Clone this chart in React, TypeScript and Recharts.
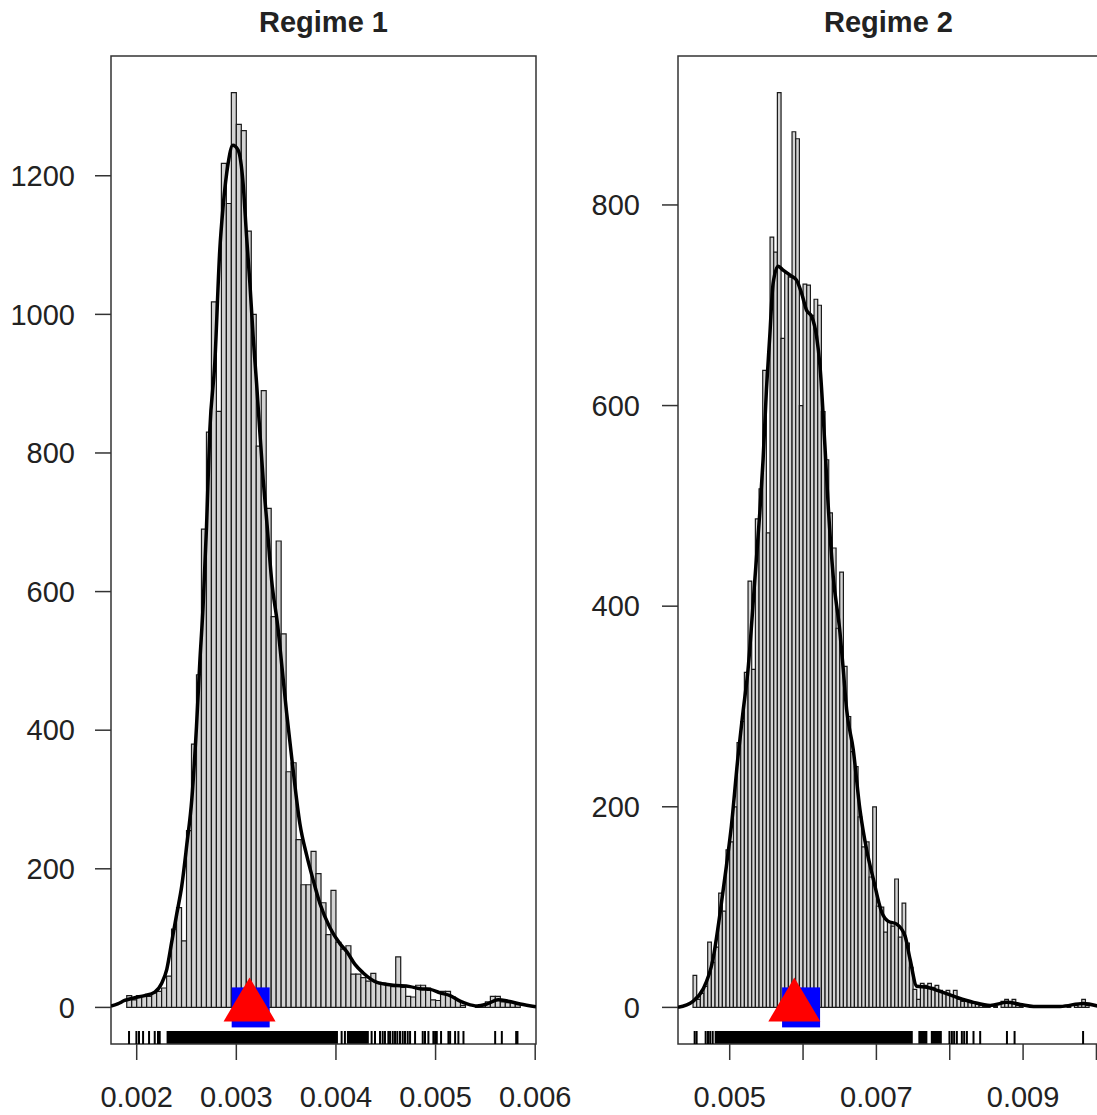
import React from 'react'
import { ComposedChart, XAxis, YAxis, Line, Scatter, ReferenceArea } from 'recharts'

// both regimes use histogram bins 0.00005 wide
const BIN_WIDTH = 0.00005

// ---- Regime 1 ----
const R1_BIN_START = 0.0019
const R1_COUNTS = [
  17, 11, 17, 16, 16, 21, 23, 28, 45, 113,
  144, 96, 255, 380, 480, 690, 830, 1018, 860, 1218,
  1160, 1320, 1274, 1265, 1120, 1000, 810, 890, 720, 564,
  673, 539, 340, 353, 242, 177, 177, 225, 193, 151,
  105, 169, 94, 84, 89, 48, 48, 43, 38, 49,
  36, 35, 33, 30, 73, 29, 16, 15, 32, 32,
  28, 11, 10, 23, 23, 15, 10, 3, 0, 0,
  2, 3, 8, 16, 16, 8, 7, 7, 4,
]
const R1_DENS_X = [
  0.001742, 0.001809, 0.001879, 0.00198, 0.00208, 0.002181, 0.002251, 0.002302, 0.002352, 0.002402,
  0.002452, 0.002503, 0.002553, 0.0026, 0.002633, 0.002666, 0.002701, 0.002734, 0.002784, 0.002834,
  0.002867, 0.002918, 0.002965, 0.003018, 0.003068, 0.003103, 0.003136, 0.003169, 0.003203, 0.003236,
  0.00327, 0.003304, 0.003354, 0.00342, 0.003454, 0.003505, 0.003568, 0.003638, 0.003709, 0.003769,
  0.003839, 0.00394, 0.00404, 0.004111, 0.004191, 0.004271, 0.004412, 0.004573, 0.004744, 0.004844,
  0.004945, 0.005045, 0.005146, 0.005246, 0.005317, 0.005417, 0.005518, 0.005628, 0.005729, 0.005849,
  0.006008,
]
const R1_DENS_Y = [
  2, 5, 10, 14, 17, 22, 35, 55, 95, 135,
  175, 235, 300, 405, 497, 578, 694, 833, 930, 1093,
  1155, 1218, 1244, 1237, 1189, 1112, 1045, 968, 901, 830,
  761, 704, 617, 545, 497, 425, 345, 265, 218, 185,
  150, 115, 92, 80, 62, 50, 36, 32, 30, 27,
  26, 21, 17, 9, 5, 2, 5, 11, 9, 5,
  1,
]
const R1_RUG = [
  0.001923, 0.001997, 0.002023, 0.002064, 0.002124, 0.002181, 0.002214, 0.002231, 0.004057, 0.00409,
  0.004358, 0.004392, 0.004442, 0.004469, 0.004492, 0.004526, 0.004543, 0.00457, 0.004593, 0.004616,
  0.004643, 0.00467, 0.004693, 0.00472, 0.004744, 0.004794, 0.004871, 0.004894, 0.004928, 0.004978,
  0.004995, 0.005012, 0.005055, 0.005129, 0.005146, 0.005196, 0.005229, 0.00528, 0.005598, 0.005665,
  0.005809, 0.005822,
]
const R1_RUG_BANDS = [
  [0.0023, 0.00402],
  [0.00411, 0.00433],
]
const R1_SQUARE = 0.003144
const R1_TRIANGLE = 0.003133
const R1_X_TICKS = [0.002, 0.003, 0.004, 0.005, 0.006]
const R1_Y_TICKS = [0, 200, 400, 600, 800, 1000, 1200]

// ---- Regime 2 ----
const R2_BIN_START = 0.0045
const R2_COUNTS = [
  32, 8, 14, 21, 65, 45, 60, 114, 96, 157,
  165, 200, 264, 285, 334, 425, 337, 487, 517, 635,
  473, 768, 753, 912, 667, 732, 728, 873, 866, 600,
  721, 720, 690, 706, 700, 594, 546, 493, 458, 378,
  434, 340, 290, 255, 240, 190, 160, 165, 130, 200,
  101, 100, 75, 85, 81, 128, 70, 104, 64, 40,
  18, 8, 24, 22, 24, 20, 22, 17, 15, 17,
  12, 17, 8, 6, 6, 5, 4, 3, 2, 1,
  2, 0, 1, 0, 6, 8, 4, 8, 2, 1,
  0, 0, 1, 0, 0, 0, 1, 0, 0, 0,
  0, 0, 1, 0, 2, 3, 8, 2,
]
const R2_DENS_X = [
  0.004295, 0.004499, 0.004635, 0.004772, 0.004863, 0.004955, 0.005023, 0.005113, 0.005182, 0.00525,
  0.005342, 0.00541, 0.005455, 0.005501, 0.005546, 0.005592, 0.00566, 0.005728, 0.005843, 0.005911,
  0.00598, 0.006048, 0.006116, 0.006184, 0.00623, 0.006298, 0.006343, 0.006411, 0.006503, 0.006548,
  0.006594, 0.006684, 0.006776, 0.006867, 0.006958, 0.007072, 0.007158, 0.007277, 0.007391, 0.007459,
  0.007551, 0.007687, 0.007869, 0.008097, 0.008324, 0.008552, 0.00878, 0.008962, 0.009143, 0.009508,
  0.009822, 0.010035,
]
const R2_DENS_Y = [
  0, 6, 18, 48, 91, 141, 181, 250, 295, 337,
  426, 493, 546, 616, 669, 722, 739, 735, 729, 725,
  712, 695, 689, 669, 640, 560, 500, 430, 374, 337,
  297, 257, 197, 157, 128, 95, 86, 83, 71, 48,
  21, 20, 16, 10, 5, 2, 5, 3, 1, 1,
  4, 1,
]
const R2_RUG = [
  0.004522, 0.004549, 0.004672, 0.004704, 0.004734, 0.004768, 0.007996, 0.008029, 0.00806, 0.008097,
  0.008165, 0.008197, 0.008234, 0.008324, 0.008415, 0.00878, 0.008884, 0.009818,
]
const R2_RUG_BANDS = [
  [0.004795, 0.007496],
  [0.007572, 0.007695],
  [0.007742, 0.007892],
]
const R2_SQUARE = 0.005973
const R2_TRIANGLE = 0.005881
const R2_X_TICKS = [0.005, 0.006, 0.007, 0.008, 0.009, 0.01]
const R2_X_LABELS = [0.005, 0.007, 0.009]
const R2_Y_TICKS = [0, 200, 400, 600, 800]

const FONT = '"Liberation Sans", Arial, sans-serif'
const TEXT = '#222'
const PLOT_H = 988
const RUG_PX = 13

const RugTick = (p: any) => (
  <line x1={p.cx} x2={p.cx} y1={p.cy - RUG_PX} y2={p.cy} stroke="#000" strokeWidth={2} />
)
const BlueSquare = (p: any) => (
  <rect x={p.cx - 19} y={p.cy - 20} width={38} height={40} fill="#0000ff" />
)
const RedTriangle = (p: any) => (
  <polygon
    points={`${p.cx},${p.cy - 30} ${p.cx - 26},${p.cy + 14} ${p.cx + 26},${p.cy + 14}`}
    fill="#ff0000"
  />
)

type PanelProps = {
  left: number
  width: number
  yAxisWidth: number
  marginRight: number
  binStart: number
  counts: number[]
  densX: number[]
  densY: number[]
  rug: number[]
  rugBands: number[][]
  square: number
  triangle: number
  xDomain: [number, number]
  yDomain: [number, number]
  xTicks: number[]
  xLabels: number[]
  yTicks: number[]
  yLabelGap: number
}

function Panel(props: PanelProps) {
  const { xDomain, yDomain } = props
  const dens = props.densX.map((x, i) => ({ x, y: props.densY[i] }))
  const rugTop = yDomain[0] + ((yDomain[1] - yDomain[0]) * RUG_PX) / PLOT_H
  const tickStyle = { fill: TEXT, fontSize: 29, fontFamily: FONT }
  const showLabel = (v: number) => props.xLabels.some((l) => Math.abs(l - v) < 1e-9)

  return (
    <div style={{ position: 'absolute', left: props.left, top: 0 }}>
      <ComposedChart
        width={props.width}
        height={1115}
        margin={{ top: 56, right: props.marginRight, bottom: 0, left: 0 }}
      >
        <XAxis
          type="number"
          dataKey="x"
          domain={xDomain}
          allowDataOverflow
          ticks={props.xTicks}
          interval={0}
          height={71}
          axisLine={false}
          tickLine={{ stroke: '#333', strokeWidth: 1.5 }}
          tickSize={16}
          tickMargin={26}
          tick={tickStyle}
          tickFormatter={(v: number) => (showLabel(v) ? v.toFixed(3) : '')}
        />
        <YAxis
          type="number"
          dataKey="y"
          domain={yDomain}
          allowDataOverflow
          ticks={props.yTicks}
          interval={0}
          width={props.yAxisWidth}
          axisLine={false}
          tickLine={{ stroke: '#333', strokeWidth: 1.5 }}
          tickSize={16}
          tickMargin={props.yLabelGap}
          tick={tickStyle}
        />
        {props.counts.map((c, i) => (
          <ReferenceArea
            key={'b' + i}
            x1={props.binStart + i * BIN_WIDTH}
            x2={props.binStart + (i + 1) * BIN_WIDTH}
            y1={0}
            y2={c}
            fill="#d3d3d3"
            fillOpacity={1}
            stroke="#1a1a1a"
            strokeWidth={1.2}
          />
        ))}
        <Line
          data={dens}
          dataKey="y"
          type="monotone"
          stroke="#000"
          strokeWidth={3.5}
          dot={false}
          activeDot={false}
          isAnimationActive={false}
        />
        {props.rugBands.map((b, i) => (
          <ReferenceArea
            key={'r' + i}
            x1={b[0]}
            x2={b[1]}
            y1={yDomain[0]}
            y2={rugTop}
            fill="#000"
            fillOpacity={1}
            stroke="none"
          />
        ))}
        <Scatter
          data={props.rug.map((x) => ({ x, y: yDomain[0] }))}
          dataKey="y"
          shape={RugTick}
          isAnimationActive={false}
        />
        <Scatter
          data={[{ x: props.square, y: 0 }]}
          dataKey="y"
          shape={BlueSquare}
          isAnimationActive={false}
        />
        <Scatter
          data={[{ x: props.triangle, y: 0 }]}
          dataKey="y"
          shape={RedTriangle}
          isAnimationActive={false}
        />
        <ReferenceArea
          x1={xDomain[0]}
          x2={xDomain[1]}
          y1={yDomain[0]}
          y2={yDomain[1]}
          fill="none"
          stroke="#333"
          strokeWidth={1.5}
        />
      </ComposedChart>
    </div>
  )
}

export default function App() {
  return (
    <div
      style={{
        position: 'absolute',
        left: 0,
        top: 0,
        width: 1097,
        height: 1115,
        overflow: 'hidden',
        background: '#fff',
        fontFamily: FONT,
      }}
    >
      <Panel
        left={548}
        width={560}
        yAxisWidth={130}
        marginRight={9}
        binStart={R2_BIN_START}
        counts={R2_COUNTS}
        densX={R2_DENS_X}
        densY={R2_DENS_Y}
        rug={R2_RUG}
        rugBands={R2_RUG_BANDS}
        square={R2_SQUARE}
        triangle={R2_TRIANGLE}
        xDomain={[0.004295, 0.010035]}
        yDomain={[-36.5, 948.5]}
        xTicks={R2_X_TICKS}
        xLabels={R2_X_LABELS}
        yTicks={R2_Y_TICKS}
        yLabelGap={22}
      />
      <Panel
        left={0}
        width={600}
        yAxisWidth={111}
        marginRight={64}
        binStart={R1_BIN_START}
        counts={R1_COUNTS}
        densX={R1_DENS_X}
        densY={R1_DENS_Y}
        rug={R1_RUG}
        rugBands={R1_RUG_BANDS}
        square={R1_SQUARE}
        triangle={R1_TRIANGLE}
        xDomain={[0.001742, 0.006008]}
        yDomain={[-52.8, 1372.8]}
        xTicks={R1_X_TICKS}
        xLabels={R1_X_TICKS}
        yTicks={R1_Y_TICKS}
        yLabelGap={20}
      />
      <svg
        width={1097}
        height={1115}
        style={{ position: 'absolute', left: 0, top: 0, pointerEvents: 'none' }}
      >
        <text x={323.5} y={32} textAnchor="middle" fontFamily={FONT} fontWeight="bold" fontSize={29} fill={TEXT}>
          Regime 1
        </text>
        <text x={888.5} y={32} textAnchor="middle" fontFamily={FONT} fontWeight="bold" fontSize={29} fill={TEXT}>
          Regime 2
        </text>
      </svg>
    </div>
  )
}
